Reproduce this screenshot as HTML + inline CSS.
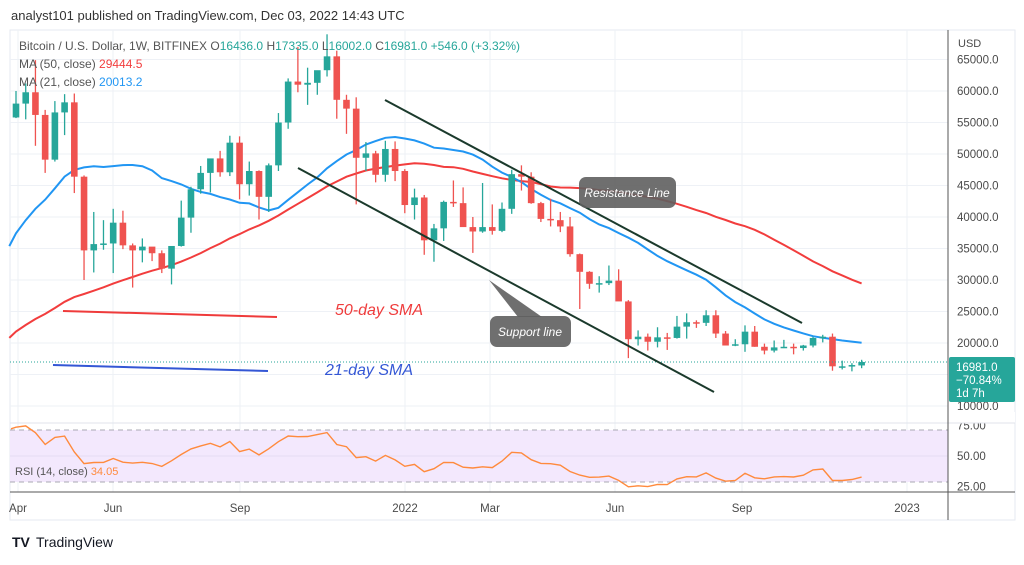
<!DOCTYPE html>
<html><head><meta charset="utf-8">
<style>
html,body{margin:0;padding:0;background:#fff;}
body{width:1024px;height:560px;overflow:hidden;font-family:"Liberation Sans",sans-serif;}
svg text{font-family:"Liberation Sans",sans-serif;}
</style></head><body>
<svg id="c" width="1024" height="560" xmlns="http://www.w3.org/2000/svg"></svg>
<script>
var pre=[7100,7700,8900,8700,9700,8900,9500,9700,9400,9300,9000,9100,9200,9200,9900,11800,11700,11900,11700,11700,10300,10700,10900,10700,10700,11400,11400,13000,13800,
15500,16000,18400,18200,19100,19200,24000,26400,32000,38200,36000,32200,34300,39200,48600,57400,45200,50900,59000,57500,55800];
var d=[[55800,60000,55700,58000],[58000,61200,55500,59800],[59800,64900,51300,56200],[56200,57000,47000,49100],[49100,58400,48800,56600],[56600,59500,53000,58200],[58200,59600,43800,46400],[46400,46600,30000,34700],[34700,40800,31200,35700],[35700,39500,34800,35800],[35800,41300,31100,39100],[39100,41000,34900,35500],[35500,35800,28800,34700],[34700,36600,32800,35300],[35300,35100,33000,34250],[34250,34700,31100,31800],[31800,32800,29300,35400],[35400,42600,35300,39900],[39900,44800,37500,44400],[44400,48100,43700,47000],[47000,48000,43900,49300],[49300,50500,46400,47100],[47100,52900,46500,51800],[51800,52800,42800,45200],[45200,48800,43400,47300],[47300,47400,39600,43200],[43200,48500,40800,48200],[48200,56500,47300,55000],[55000,62000,54000,61500],[61500,67000,59800,61000],[61000,63700,57800,61300],[61300,63000,59400,63300],[63300,69000,62300,65500],[65500,66400,55600,58600],[58600,59400,53200,57200],[57200,59000,42000,49400],[49400,51900,47300,50100],[50100,50500,45500,46700],[46700,52100,45600,50800],[50800,52000,45700,47300],
[47300,47600,40600,41900],[41900,44500,39600,43100],[43100,43500,34000,36300],[36300,38900,32900,38200],[38200,42600,36200,42400],[42400,45800,41600,42200],[42200,44700,39400,38400],[38400,40000,34300,37700],[37700,45400,37500,38400],[38400,42000,37200,37800],[37800,42300,37600,41300],[41300,47500,40500,46800],[46800,48200,44200,46400],[46400,47100,42100,42200],[42200,42400,39200,39700],[39700,42900,38500,39500],[39500,40800,37600,38500],[38500,40000,33700,34100],[34100,34200,25400,31300],[31300,31400,28600,29400],[29400,30600,28000,29500],[29500,32300,29200,29900],[29900,31700,26700,26600],[26600,26800,17600,20600],[20600,22000,19600,21000],[21000,21500,18800,20200],[20200,22500,19300,20900],[20900,21600,18900,20800],[20800,24300,20700,22600],[22600,24700,20700,23300],[23300,23600,22400,23200],[23200,25200,22700,24400],[24400,25200,20800,21500],[21500,21900,19800,19600],[19600,20600,19500,19800],[19800,22800,18600,21800],[21800,22700,19400,19400],[19400,19900,18200,18800],[18800,20400,18500,19300],[19300,20500,19200,19400],[19400,19900,18200,19200],[19200,19700,18800,19600],[19600,21000,19300,20800],[20800,21300,20100,21000],[21000,21500,15600,16300],[16300,17200,15800,16300],[16300,16800,15500,16500],[16436,17335,16002,16981]];
var s='';
function X(i){return 16+i*9.72;}
function Y(p){return 343+(20000-p)*0.0063;}
function R(v){return 456-(v-50)*1.3;}
var L=10,Rt=948;
// grid
s+='<rect x="10" y="30" width="1005" height="490" fill="none" stroke="#e6eaf0"/>';
for(var p=10000;p<=65000;p+=5000){s+='<line x1="'+L+'" x2="'+Rt+'" y1="'+Y(p)+'" y2="'+Y(p)+'" stroke="#eef1f6"/>';}
var mx=[[18,'Apr'],[113,'Jun'],[240,'Sep'],[405,'2022'],[490,'Mar'],[615,'Jun'],[742,'Sep'],[907,'2023']];
mx.forEach(function(m){s+='<line x1="'+m[0]+'" x2="'+m[0]+'" y1="30" y2="492" stroke="#eef1f6"/>';});
// rsi pane
s+='<line x1="10" x2="1015" y1="423" y2="423" stroke="#e0e3eb"/>';
s+='<rect x="'+L+'" y="'+R(70)+'" width="'+(Rt-L)+'" height="'+(R(30)-R(70))+'" fill="#f3e8fd"/>';
s+='<line x1="'+L+'" x2="'+Rt+'" y1="'+R(50)+'" y2="'+R(50)+'" stroke="#e6dcf3"/>';
[70,30].forEach(function(v){s+='<line x1="'+L+'" x2="'+Rt+'" y1="'+R(v)+'" y2="'+R(v)+'" stroke="#a9a9b3" stroke-dasharray="5,4"/>';});
s+='<line x1="'+L+'" x2="1015" y1="492" y2="492" stroke="#555"/>';
s+='<line x1="'+Rt+'" x2="'+Rt+'" y1="30" y2="520" stroke="#555"/>';
// closes
var cl=pre.concat(d.map(function(a){return a[3];}));
var off=pre.length;
function ma(n){var pts=[];for(var i=0;i<d.length;i++){var k=i+off,sm=0;for(var j=k-n+1;j<=k;j++)sm+=cl[j];pts.push(X(i).toFixed(1)+','+Y(sm/n).toFixed(1));}
 var k=off-1,sm=0;for(var j=k-n+1;j<=k;j++)sm+=cl[j]; pts.unshift((X(-1)+3).toFixed(1)+','+Y(sm/n).toFixed(1));return pts.join(' ');}
s+='<polyline points="'+ma(50)+'" fill="none" stroke="#f23d3d" stroke-width="2"/>';
s+='<polyline points="'+ma(21)+'" fill="none" stroke="#2196f3" stroke-width="2"/>';
// candles
d.forEach(function(a,i){var x=X(i),up=a[3]>=a[0],c=up?'#26a69a':'#ef5350';
 var t=Y(Math.max(a[0],a[3])),b=Y(Math.min(a[0],a[3]));if(b-t<1.5)b=t+1.5;
 s+='<line x1="'+x+'" x2="'+x+'" y1="'+Y(a[1])+'" y2="'+Y(a[2])+'" stroke="'+c+'" stroke-width="1.3"/>';
 s+='<rect x="'+(x-3.3)+'" y="'+t+'" width="6.6" height="'+(b-t)+'" fill="'+c+'"/>';});
// price line
s+='<line x1="'+L+'" x2="'+Rt+'" y1="'+Y(16981)+'" y2="'+Y(16981)+'" stroke="#26a69a" stroke-dasharray="1,2"/>';
// rsi
var g=0,l=0,rs=[];
for(var i=1;i<cl.length;i++){var ch=cl[i]-cl[i-1],up=Math.max(ch,0),dn=Math.max(-ch,0);
 if(i<=14){g+=up/14;l+=dn/14;}else{g=(g*13+up)/14;l=(l*13+dn)/14;}
 rs.push(i>=14?100-100/(1+g/l):50);}
var rp=[];for(var i=-1;i<d.length;i++){rp.push((i<0?11:X(i)).toFixed(1)+','+R(rs[i+off-1]).toFixed(1));}
s+='<polyline points="'+rp.join(' ')+'" fill="none" stroke="#ff8a3d" stroke-width="1.4"/>';
// trend lines & annotations
s+='<line x1="385" y1="100" x2="802" y2="323" stroke="#1b3a2c" stroke-width="2"/>';
s+='<line x1="298" y1="168" x2="714" y2="392" stroke="#1b3a2c" stroke-width="2"/>';
s+='<line x1="63" y1="311" x2="277" y2="317" stroke="#ef3b3b" stroke-width="2"/>';
s+='<line x1="53" y1="365" x2="268" y2="371" stroke="#3457d5" stroke-width="2"/>';
s+='<text x="335" y="315" font-size="16" font-style="italic" fill="#ef3b3b">50-day SMA</text>';
s+='<text x="325" y="375" font-size="16" font-style="italic" fill="#3457d5">21-day SMA</text>';
s+='<rect x="579" y="177" width="97" height="31" rx="7" fill="rgba(95,95,95,0.9)"/>';
s+='<text x="627" y="197" font-size="12" font-style="italic" fill="#fff" text-anchor="middle">Resistance Line</text>';
s+='<polygon points="489,280 518,317 542,317" fill="rgba(95,95,95,0.9)"/>';
s+='<rect x="490" y="316" width="81" height="31" rx="7" fill="rgba(95,95,95,0.9)"/>';
s+='<text x="530" y="336" font-size="12" font-style="italic" fill="#fff" text-anchor="middle">Support line</text>';
// right axis
s+='<text x="958" y="47" font-size="11" fill="#4a4a4a">USD</text>';
for(var p=10000;p<=65000;p+=5000){if(p==15000)continue;s+='<text x="957" y="'+(Y(p)+4)+'" font-size="11.5" fill="#4a4a4a">'+p+'.0</text>';}
s+='<rect x="949" y="357" width="66" height="45" rx="2" fill="#26a69a"/>';
s+='<text x="956" y="371" font-size="11.5" fill="#fff">16981.0</text><text x="956" y="384" font-size="11.5" fill="#fff">−70.84%</text><text x="956" y="397" font-size="11.5" fill="#fff">1d 7h</text>';
s+='<text x="957" y="'+(R(75)+6)+'" font-size="11.5" fill="#4a4a4a">75.00</text>';
s+='<rect x="949" y="412" width="66" height="10.5" fill="#fff"/><line x1="949" x2="1015" y1="423" y2="423" stroke="#e0e3eb"/>';
s+='<text x="957" y="'+(R(50)+4)+'" font-size="11.5" fill="#4a4a4a">50.00</text>';
s+='<text x="957" y="'+(R(25)+2)+'" font-size="11.5" fill="#4a4a4a">25.00</text>';
s+='<line x1="'+Rt+'" x2="1015" y1="492" y2="492" stroke="#555"/>';
// time axis
mx.forEach(function(m){s+='<text x="'+m[0]+'" y="512" font-size="11.5" fill="#4a4a4a" text-anchor="middle">'+m[1]+'</text>';});
// legends
s+='<text x="11" y="20" font-size="13" fill="#333">analyst101 published on TradingView.com, Dec 03, 2022 14:43 UTC</text>';
s+='<text x="19" y="50" font-size="12" fill="#555">Bitcoin / U.S. Dollar, 1W, BITFINEX  O<tspan fill="#26a69a">16436.0</tspan>  H<tspan fill="#26a69a">17335.0</tspan>  L<tspan fill="#26a69a">16002.0</tspan>  C<tspan fill="#26a69a">16981.0  +546.0 (+3.32%)</tspan></text>';
s+='<text x="19" y="68" font-size="12" fill="#555">MA (50, close)  <tspan fill="#f23d3d">29444.5</tspan></text>';
s+='<text x="19" y="86" font-size="12" fill="#555">MA (21, close)  <tspan fill="#2196f3">20013.2</tspan></text>';
s+='<text x="15" y="475" font-size="11" fill="#555">RSI (14, close)  <tspan fill="#ff8a3d">34.05</tspan></text>';
s+='<text x="12" y="547" font-size="14" font-weight="bold" fill="#131722">TV</text><text x="36" y="547" font-size="14" fill="#131722">TradingView</text>';
document.getElementById('c').innerHTML=s;
</script>
</body></html>
